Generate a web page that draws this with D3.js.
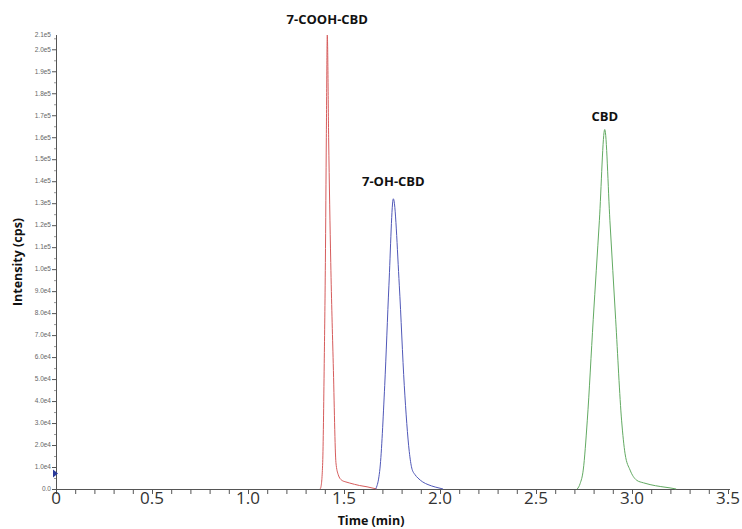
<!DOCTYPE html>
<html><head><meta charset="utf-8">
<script src="https://cdn.jsdelivr.net/npm/d3@7"></script>
<style>body{margin:0;background:#fff}svg{display:block}</style>
</head><body><svg id="c" width="742" height="529"></svg>
<script>
// ---- data ----
const seriesNames = ["7-COOH-CBD", "7-OH-CBD", "CBD"];
const seriesColors = ["#d65c5c", "#5058b8", "#62aa62"];
const cooh_t = [1.375, 1.380, 1.389, 1.397, 1.403, 1.408, 1.413, 1.420, 1.431, 1.444, 1.458, 1.470, 1.488, 1.510, 1.530, 1.580, 1.620, 1.670];
const cooh_y = [0, 1000, 12000, 57000, 103000, 160000, 206500, 160000, 103000, 57000, 12000, 6500, 4000, 3200, 2700, 1600, 1000, 0];
const oh_t = [1.665, 1.672, 1.680, 1.6875, 1.712, 1.734, 1.757, 1.788, 1.814, 1.840, 1.853, 1.870, 1.885, 1.910, 1.9375, 1.975, 2.016];
const oh_y = [0, 1500, 4500, 9500, 47000, 92700, 132000, 92700, 47000, 17000, 9500, 6500, 5000, 3200, 2000, 900, 0];
const cbd_t = [2.715, 2.730, 2.746, 2.767, 2.798, 2.830, 2.858, 2.885, 2.915, 2.946, 2.964, 2.990, 3.024, 3.060, 3.094, 3.150, 3.198, 3.230];
const cbd_y = [0, 2500, 8600, 31000, 77000, 122000, 163500, 122000, 77000, 31000, 16000, 8600, 4000, 2800, 2000, 1100, 500, 0];
const xTicks = [0, 0.5, 1.0, 1.5, 2.0, 2.5, 3.0, 3.5];
const xTickLabels = ["0", "0.5", "1.0", "1.5", "2.0", "2.5", "3.0", "3.5"];
const yTicks = d3.range(0, 200001, 10000);
const yTickLabels = ["0.0","1.0e4","2.0e4","3.0e4","4.0e4","5.0e4","6.0e4","7.0e4","8.0e4","9.0e4","1.0e5","1.1e5","1.2e5","1.3e5","1.4e5","1.5e5","1.6e5","1.7e5","1.8e5","1.9e5","2.0e5"];
const yMax = 206500, yMaxLabel = "2.1e5";
const markerValue = 7000;
const xTitle = "Time (min)", yTitle = "Intensity (cps)";

// ---- chart ----
const svg = d3.select("#c");
const x = d3.scaleLinear().domain([0, 3.5]).range([56, 728]);
const y = d3.scaleLinear().domain([0, yMax]).range([489, 35]);
const axisCol = "#555";

// y axis
const ya = svg.append("g");
ya.append("line").attr("x1", 56.5).attr("x2", 56.5).attr("y1", y(yMax)).attr("y2", y(0)).attr("stroke", axisCol);
ya.selectAll("line.t").data(yTicks).join("line").attr("class","t")
  .attr("x1", 52).attr("x2", 56).attr("y1", d => y(d)+0.5).attr("y2", d => y(d)+0.5).attr("stroke", axisCol);
ya.selectAll("line.m").data(yTicks.map(d => d + 5000)).join("line").attr("class","m")
  .attr("x1", 54).attr("x2", 56).attr("y1", d => y(d)+0.5).attr("y2", d => y(d)+0.5).attr("stroke", "#999");
ya.selectAll("text").data(yTicks).join("text")
  .attr("x", 51).attr("y", d => y(d)).attr("dy", "0.35em").attr("text-anchor", "end")
  .attr("font-family", "Liberation Sans, Arial, sans-serif").attr("font-size", 6.5).attr("fill", "#666")
  .text((d, i) => yTickLabels[i]);
ya.append("text").attr("x", 51).attr("y", y(yMax)).attr("dy", "0.35em").attr("text-anchor", "end")
  .attr("font-family", "Liberation Sans, Arial, sans-serif").attr("font-size", 6.5).attr("fill", "#666").text(yMaxLabel);

// x axis
const xa = svg.append("g");
xa.append("line").attr("x1", 56).attr("x2", 730).attr("y1", 489.5).attr("y2", 489.5).attr("stroke", axisCol);
xa.selectAll("line.t").data(d3.range(0, 36).map(i => i / 10)).join("line").attr("class","t")
  .attr("x1", d => x(d)+0.5).attr("x2", d => x(d)+0.5).attr("y1", 489).attr("y2", 494).attr("stroke", axisCol);
xa.selectAll("text").data(xTicks).join("text")
  .attr("x", d => x(d)).attr("y", 504).attr("text-anchor", "middle")
  .attr("font-family", "Open Sans, sans-serif").attr("font-size", 17).attr("fill", "#333")
  .text((d, i) => xTickLabels[i]);

// titles
svg.append("text").attr("x", 371).attr("y", 525).attr("text-anchor", "middle")
  .attr("font-family", "Open Sans, sans-serif").attr("font-weight", "bold").attr("font-size", 12.5).attr("fill", "#111").text(xTitle);
svg.append("text").attr("transform", "translate(22,262) rotate(-90)").attr("text-anchor", "middle")
  .attr("font-family", "Open Sans, sans-serif").attr("font-weight", "bold").attr("font-size", 12.5).attr("fill", "#111").text(yTitle);

// series
const series = [[cooh_t, cooh_y], [oh_t, oh_y], [cbd_t, cbd_y]];
const line = d3.line().x(d => x(d[0])).y(d => y(d[1])).curve(d3.curveMonotoneX);
const labelOffsets = [11, 13, 9];
series.forEach(([ts, vs], i) => {
  const pts = ts.map((t, j) => [t, vs[j]]);
  svg.append("path").attr("d", line(pts)).attr("fill", "none").attr("stroke", seriesColors[i]).attr("stroke-width", 1);
  const pk = pts.reduce((a, b) => b[1] > a[1] ? b : a);
  svg.append("text").attr("x", x(pk[0])).attr("y", y(pk[1]) - labelOffsets[i]).attr("text-anchor", "middle")
    .attr("font-family", "Open Sans, sans-serif").attr("font-weight", "bold").attr("font-size", 13).attr("fill", "#111")
    .text(seriesNames[i]);
});

// small marker on y axis
const my = y(markerValue);
svg.append("path").attr("d", `M53,${my-4}L58,${my}L53,${my+4}Z`).attr("fill", "#2a3a9a");
</script></body></html>
